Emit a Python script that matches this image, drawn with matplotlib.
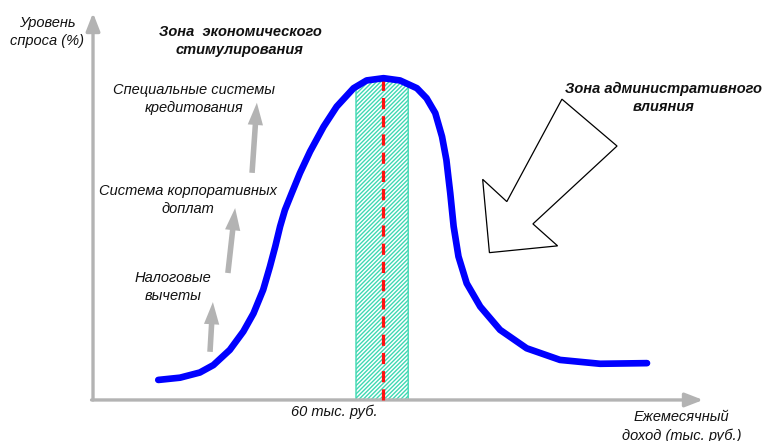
import numpy as np
import matplotlib
matplotlib.use("Agg")
import matplotlib.pyplot as plt
from matplotlib.patches import Polygon

plt.rcParams["font.family"] = ["Liberation Sans", "DejaVu Sans"]

# demand curve: monthly income (thousand rub) vs demand level (%)
income = [13.5, 18.0, 22.1, 24.9, 28.3, 31.1, 33.2, 35.2, 36.6, 37.7,
          38.7, 39.7, 41.1, 42.8, 44.9, 47.7, 50.4, 53.9, 56.6, 60.1,
          63.5, 67.0, 69.0, 70.8, 72.2, 73.1, 73.5, 73.9, 74.6, 75.6,
          77.3, 80.1, 84.2, 89.7, 96.6, 104.9, 114.6]
demand = [6.2, 6.9, 8.5, 10.8, 15.5, 21.2, 26.8, 34.1, 41.3, 47.5,
          53.7, 58.8, 64.0, 70.2, 76.9, 84.6, 90.8, 96.5, 98.9, 99.6,
          98.9, 96.5, 93.4, 88.8, 81.5, 74.3, 69.1, 64.0, 53.7, 44.4,
          36.1, 28.9, 21.7, 16.0, 12.4, 11.2, 11.4]

optimum = 60.0            # 60 тыс. руб.
band = [54.4, 65.2]       # zone of economic stimulation

# stimulus arrows (tail, tip)
stim_tails = [(24.2, 14.9), (27.9, 39.3), (32.9, 70.3)]
stim_tips = [(24.8, 30.3), (29.4, 59.4), (33.9, 92.0)]
stim_labels = ["Налоговые\nвычеты", "Система корпоративных\nдоплат",
               "Специальные системы\nкредитования"]
stim_label_pos = [(16.6, 35.0), (19.7, 61.9), (20.9, 93.2)]

# outline arrow for the administrative zone
admin_arrow = [(97.0, 93.1), (108.4, 78.6), (91.0, 54.5), (96.1, 47.7),
               (82.0, 45.6), (80.6, 68.3), (85.6, 61.4)]

fig = plt.figure(figsize=(7.64, 4.41), dpi=100)
ax = fig.add_axes([0, 0, 1, 1])
ax.set_xlim(-19.24, 138.8)
ax.set_ylim(-12.7, 123.8)
ax.axis("off")

gray = "#b3b3b3"
txt = "#111111"
ls = 1.4

# axes arrows
ax.annotate("", xy=(0, 119.8), xytext=(0, 0),
            arrowprops=dict(arrowstyle="-|>,head_length=0.9,head_width=0.35",
                            color=gray, lw=2.4, mutation_scale=12,
                            shrinkA=0, shrinkB=0))
ax.annotate("", xy=(126.2, 0), xytext=(-0.3, 0),
            arrowprops=dict(arrowstyle="-|>,head_length=0.9,head_width=0.35",
                            color=gray, lw=2.4, mutation_scale=12,
                            shrinkA=0, shrinkB=0))

# hatched band under the curve
xb = np.linspace(band[0], band[1], 60)
yb = np.interp(xb, income, demand)
ax.fill_between(xb, 0, yb, facecolor="white", edgecolor="#3fd8b2",
                hatch="////////", linewidth=1.0, zorder=2)

# optimum line
ax.plot([optimum, optimum], [0, 99.0], color="#ff1010", lw=2.3,
        dashes=(3.5, 2.2), zorder=3)

# demand curve
ax.plot(income, demand, color="#0000ff", lw=4.8, solid_capstyle="round",
        solid_joinstyle="round", zorder=4)

# stimulus arrows
for tail, tip in zip(stim_tails, stim_tips):
    ax.annotate("", xy=tip, xytext=tail,
                arrowprops=dict(arrowstyle="simple,head_length=1.6,head_width=1.1,tail_width=0.4",
                                fc=gray, ec="none", mutation_scale=10,
                                shrinkA=0, shrinkB=0))
for lab, (x, y) in zip(stim_labels, stim_label_pos):
    ax.text(x, y, lab, ha="center", va="center", style="italic",
            fontsize=10.5, color=txt, linespacing=ls)

ax.add_patch(Polygon(admin_arrow, closed=True, facecolor="white",
                     edgecolor="black", lw=0.9, zorder=5))

ax.text(-9.5, 113.9, "Уровень\nспроса (%)", ha="center", va="center",
        style="italic", fontsize=10.5, color=txt, linespacing=ls)
ax.text(30.4, 111.1, "Зона  экономического\nстимулирования", ha="center",
        va="center", style="italic", fontweight="bold", fontsize=10.5,
        color=txt, linespacing=ls)
ax.text(118.1, 93.5, "Зона административного\nвлияния", ha="center",
        va="center", style="italic", fontweight="bold", fontsize=10.5,
        color=txt, linespacing=ls)
ax.text(49.9, -3.7, "60 тыс. руб.", ha="center", va="center",
        style="italic", fontsize=10.5, color=txt)
ax.text(121.7, -8.3, "Ежемесячный\nдоход (тыс. руб.)", ha="center",
        va="center", style="italic", fontsize=10.5, color=txt,
        linespacing=ls)

fig.savefig("out.png", dpi=100)
